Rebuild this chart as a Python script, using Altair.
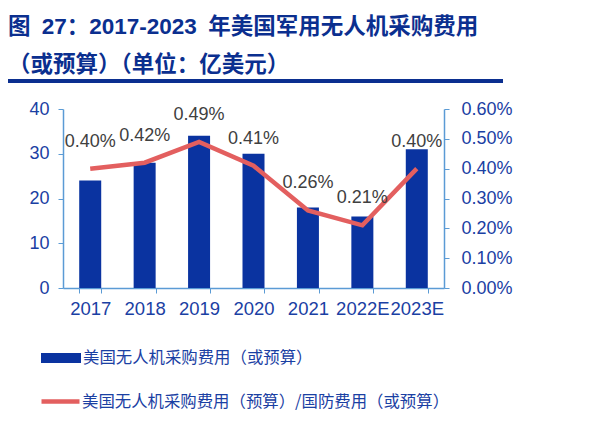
import altair as alt
import pandas as pd

years = ["2017", "2018", "2019", "2020", "2021", "2022E", "2023E"]
spend = [24, 28, 34, 30, 18, 16, 31]
ratio = [0.0040, 0.0042, 0.0049, 0.0041, 0.0026, 0.0021, 0.0040]
name_bar = "美国无人机采购费用（或预算）"
name_line = "美国无人机采购费用（预算）/国防费用（或预算）"
title_lines = ["图\u200227：2017-2023\u2002年美国军用无人机采购费用", "（或预算）（单位：亿美元）"]

df = pd.DataFrame({"year": years, "spend": spend, "ratio": ratio,
                   "s1": [name_bar] * len(years), "s2": [name_line] * len(years)})

NAVY = "#0A33A0"
TITLE = "#0B2F8F"
AXBLUE = "#5B9BD5"
LABEL = "#1A40A3"
RED = "#E35F5F"
LATIN = "Liberation Sans"
CJK = "Noto Sans CJK SC"

x = alt.X("year:N", sort=years, title=None,
          scale=alt.Scale(paddingInner=0.6, paddingOuter=0.3),
          axis=alt.Axis(labelAngle=0, labelFont=LATIN, labelFontSize=18.5, labelColor=LABEL,
                        domainColor=AXBLUE, domainWidth=1.5, tickColor=AXBLUE, tickSize=5,
                        tickBand="extent", labelPadding=6, grid=False))

base = alt.Chart(df)

bars = base.mark_bar(size=22).encode(
    x=x,
    y=alt.Y("spend:Q", title=None, scale=alt.Scale(domain=[0, 40]),
            axis=alt.Axis(values=[0, 10, 20, 30, 40], orient="left", labelFont=LATIN,
                          labelFontSize=18, labelColor=LABEL, domainColor=AXBLUE, domainWidth=1.5,
                          tickColor=AXBLUE, tickSize=5, labelPadding=9, grid=False)),
    color=alt.Color("s1:N", scale=alt.Scale(domain=[name_bar], range=[NAVY]),
                    legend=alt.Legend(title=None, orient="none", legendX=-22, legendY=229,
                                      symbolType="M-1,-0.25H1V0.25H-1Z", symbolSize=1600,
                                      symbolStrokeWidth=0, labelFont=CJK, labelFontSize=16.4,
                                      labelColor=LABEL, labelOffset=2, labelLimit=600, padding=0)),
)

yr = alt.Scale(domain=[0, 0.006])
line = base.mark_line(strokeWidth=4.5).encode(
    x=x,
    y=alt.Y("ratio:Q", title=None, scale=yr,
            axis=alt.Axis(values=[0, 0.001, 0.002, 0.003, 0.004, 0.005, 0.006], format=".2%",
                          orient="right", labelFont=LATIN, labelFontSize=18, labelColor=LABEL,
                          domainColor=AXBLUE, domainWidth=1.5, tickColor=AXBLUE, tickSize=5,
                          labelPadding=12, grid=False)),
    stroke=alt.Stroke("s2:N", scale=alt.Scale(domain=[name_line], range=[RED]),
                      legend=alt.Legend(title=None, orient="none", legendX=-24, legendY=271,
                                        symbolType="stroke", symbolSize=1444,
                                        symbolStrokeWidth=4.5, labelFont=CJK, labelFontSize=16.4,
                                        labelColor=LABEL, labelOffset=0, labelLimit=600, padding=0)),
)

labels = base.mark_text(dy=-27, font=LATIN, fontSize=18, color="#404040").encode(
    x=x,
    y=alt.Y("ratio:Q", scale=yr, axis=None),
    text=alt.Text("ratio:Q", format=".2%"),
)

rule = alt.Chart(df).mark_rule(color=TITLE, strokeWidth=3).encode(
    x=alt.value(-55), x2=alt.value(440), y=alt.value(-28)
)

chart = alt.layer(bars, line, labels, rule).resolve_scale(
    y="independent", color="independent", stroke="independent"
).properties(
    width=381, height=179,
    title=alt.TitleParams(title_lines, anchor="start", frame="group", dx=-55, dy=-3,
                          font=f"{LATIN}, {CJK}", fontSize=22.5, fontWeight="bold",
                          color=TITLE, lineHeight=38, baseline="top", offset=0),
    padding={"left": 55, "top": 101, "right": 146, "bottom": 139},
    autosize=alt.AutoSizeParams(type="none"),
).configure_view(stroke=None)

chart.save("out.html", embed_options={"renderer": "svg", "actions": False})
